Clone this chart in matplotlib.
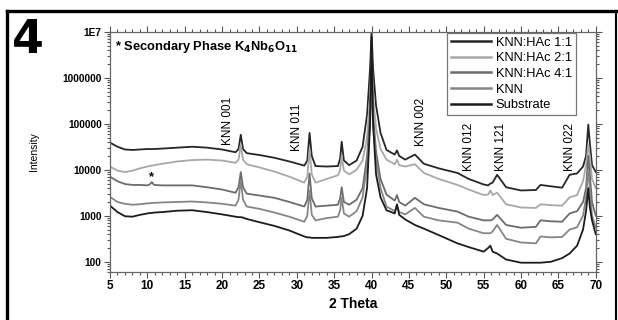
import numpy as np
import matplotlib
matplotlib.use("Agg")
import matplotlib.pyplot as plt
from matplotlib.lines import Line2D
from matplotlib.ticker import LogLocator, FixedLocator, NullFormatter

plt.rcParams['font.family'] = ['Liberation Sans', 'DejaVu Sans']

# 2 Theta positions (degrees)
two_theta = [5, 6, 7, 8, 9, 10, 10.3, 10.6, 10.9, 12, 14, 16, 18, 20,
             21.8, 22.2, 22.5, 22.8, 23.3, 25, 27, 29, 31, 31.4, 31.7, 32.0,
             32.5, 34, 35.5, 35.8, 36.0, 36.3, 37, 38, 38.8, 39.4, 39.8, 40.0,
             40.2, 40.6, 41.2, 42, 43.1, 43.4, 43.7, 44.5, 45.8, 47, 49, 51.5,
             53, 55, 55.6, 55.9, 56.2, 56.8, 58, 60, 62, 62.6, 64, 65.5, 66.5,
             67.5, 68.3, 68.7, 69.0, 69.2, 69.5, 70]

# log10(intensity)
log_hac_11 = [4.59, 4.50, 4.44, 4.43, 4.44, 4.45, 4.45, 4.45, 4.45, 4.46, 4.48,
              4.50, 4.48, 4.44, 4.38, 4.45, 4.76, 4.45, 4.36, 4.32, 4.26, 4.18,
              4.09, 4.20, 4.80, 4.30, 4.08, 4.07, 4.08, 4.25, 4.61, 4.20, 4.10,
              4.20, 4.50, 5.20, 6.20, 7.00, 6.20, 5.40, 4.80, 4.43, 4.33, 4.42,
              4.30, 4.22, 4.33, 4.13, 4.03, 3.93, 3.80, 3.68, 3.66, 3.70, 3.72,
              3.89, 3.62, 3.55, 3.56, 3.67, 3.64, 3.61, 3.89, 3.92, 4.07, 4.30,
              4.98, 4.60, 4.10, 3.95]
log_hac_21 = [4.07, 3.98, 3.95, 3.98, 4.03, 4.07, 4.08, 4.09, 4.10, 4.13, 4.18,
              4.21, 4.22, 4.20, 4.15, 4.22, 4.55, 4.22, 4.12, 4.05, 3.96, 3.85,
              3.72, 3.85, 4.45, 3.90, 3.72, 3.80, 3.88, 4.00, 4.30, 3.98, 3.90,
              4.00, 4.20, 4.70, 5.60, 6.50, 5.60, 4.90, 4.45, 4.22, 4.12, 4.22,
              4.10, 4.07, 4.12, 3.93, 3.80, 3.67, 3.57, 3.45, 3.46, 3.55, 3.45,
              3.50, 3.25, 3.18, 3.17, 3.25, 3.23, 3.22, 3.40, 3.45, 3.75, 4.10,
              4.55, 4.30, 3.80, 3.60]
log_hac_41 = [3.85, 3.75, 3.69, 3.67, 3.67, 3.66, 3.68, 3.73, 3.67, 3.66, 3.66,
              3.66, 3.62, 3.57, 3.50, 3.62, 3.95, 3.62, 3.48, 3.44, 3.39, 3.30,
              3.20, 3.35, 3.92, 3.38, 3.20, 3.22, 3.24, 3.38, 3.62, 3.30, 3.24,
              3.35, 3.60, 4.30, 5.20, 6.20, 5.20, 4.40, 3.80, 3.46, 3.33, 3.45,
              3.30, 3.22, 3.39, 3.25, 3.17, 3.09, 2.98, 2.90, 2.90, 2.90, 2.92,
              3.02, 2.80, 2.74, 2.76, 2.90, 2.88, 2.87, 3.05, 3.10, 3.30, 3.60,
              4.30, 3.90, 3.30, 3.00]
log_knn = [3.41, 3.30, 3.26, 3.24, 3.25, 3.27, 3.27, 3.28, 3.28, 3.29, 3.30,
           3.31, 3.29, 3.26, 3.22, 3.35, 3.78, 3.35, 3.20, 3.15, 3.07, 2.98,
           2.87, 3.00, 3.55, 3.02, 2.90, 2.95, 2.98, 3.12, 3.40, 3.05, 2.98,
           3.10, 3.40, 4.10, 5.00, 6.00, 5.00, 4.20, 3.60, 3.20, 3.10, 3.22,
           3.08, 3.03, 3.17, 2.98, 2.90, 2.85, 2.72, 2.62, 2.62, 2.62, 2.66,
           2.80, 2.50, 2.42, 2.40, 2.55, 2.53, 2.54, 2.70, 2.75, 3.00, 3.40,
           4.00, 3.60, 3.00, 2.75]
log_substrate = [3.22, 3.08, 2.99, 2.98, 3.02, 3.05, 3.06, 3.06, 3.07, 3.08, 3.11,
                 3.12, 3.08, 3.03, 2.98, 2.97, 2.97, 2.96, 2.93, 2.86, 2.78, 2.68,
                 2.55, 2.53, 2.53, 2.52, 2.52, 2.52, 2.54, 2.55, 2.55, 2.56, 2.60,
                 2.72, 3.00, 3.60, 5.00, 6.90, 5.00, 3.90, 3.40, 3.12, 3.05, 3.25,
                 3.02, 2.92, 2.80, 2.72, 2.58, 2.40, 2.32, 2.22, 2.30, 2.35, 2.22,
                 2.18, 2.05, 1.98, 1.98, 1.98, 2.00, 2.08, 2.18, 2.35, 2.70, 3.10,
                 3.60, 3.20, 2.90, 2.60]

series_names = ["KNN:HAc 1:1", "KNN:HAc 2:1", "KNN:HAc 4:1", "KNN", "Substrate"]
series_logs = [log_hac_11, log_hac_21, log_hac_41, log_knn, log_substrate]
series_colors = ["#262626", "#a8a8a8", "#6c6c6c", "#868686", "#1c1c1c"]

# peak labels: (text, 2 theta, bottom of text in intensity)
peak_labels = ["KNN 001", "KNN 011", "KNN 002", "KNN 012", "KNN 121", "KNN 022"]
peak_x = [20.8, 30.0, 46.6, 53.0, 57.3, 66.6]
peak_y = [35000, 26000, 32000, 9500, 9500, 9200]

fig = plt.figure(figsize=(6.18, 3.2), dpi=100)
ax = fig.add_axes([0.178, 0.15, 0.786, 0.751])

for nombre, logs, color in zip(series_names, series_logs, series_colors):
    ax.plot(two_theta, np.power(10.0, logs), color=color, lw=1.3, label=nombre)

ax.set_yscale("log")
ax.set_xlim(5, 70)
ax.set_ylim(60, 1e7)

# ticks
ax.xaxis.set_major_locator(FixedLocator(np.arange(5, 71, 5)))
ax.xaxis.set_minor_locator(FixedLocator(np.arange(5, 71, 1)))
ax.yaxis.set_minor_locator(LogLocator(base=10, subs=np.arange(2, 10), numticks=20))
ax.yaxis.set_minor_formatter(NullFormatter())
ax.set_yticks([100, 1000, 10000, 100000, 1000000, 10000000])
ax.set_yticklabels(["100", "1000", "10000", "100000", "1000000", "1E7"])
ax.tick_params(which="both", direction="out", top=True, right=True,
               labeltop=False, labelright=False, color="#555555", width=0.8)
ax.tick_params(which="major", length=4, pad=2)
ax.tick_params(which="minor", length=2)
ax.tick_params(axis="y", labelsize=7.3)
ax.tick_params(axis="x", labelsize=8.5)
for lab in ax.get_xticklabels() + ax.get_yticklabels():
    lab.set_fontweight("bold")
for sp in ax.spines.values():
    sp.set_color("#666666")
    sp.set_linewidth(0.9)

ax.set_xlabel("2 Theta", fontsize=10, fontweight="bold", labelpad=3)
ax.set_ylabel("Intensity", fontsize=7.5, labelpad=17)

ax.text(0.01, 0.935, r"* Secondary Phase K$_\mathbf{4}$Nb$_\mathbf{6}$O$_\mathbf{11}$",
        transform=ax.transAxes, fontsize=9.3, fontweight="bold", va="center")
ax.text(10.5, 7000, "*", fontsize=9, fontweight="bold", ha="center", va="center")

for texto, px, py in zip(peak_labels, peak_x, peak_y):
    ax.text(px, py, texto, rotation=90, ha="center", va="bottom", fontsize=8.5)

leg = ax.legend(loc="upper right", bbox_to_anchor=(0.959, 0.996), fontsize=9.3,
                frameon=True, fancybox=False, edgecolor="#555555",
                handlelength=3.1, handletextpad=0.4, labelspacing=0.28,
                borderpad=0.3, borderaxespad=0)
leg.get_frame().set_linewidth(0.9)
for linea in leg.get_lines():
    linea.set_linewidth(1.8)

# panel number and frame
fig.text(0.02, 0.835, "4", fontsize=33, fontweight="bold", family="DejaVu Sans")
fig.add_artist(Line2D([0.012, 0.012], [0.0, 0.967], color="black", lw=2.4))
fig.add_artist(Line2D([0.012, 0.997], [0.967, 0.967], color="black", lw=2.4))
fig.add_artist(Line2D([0.997, 0.997], [0.0, 0.967], color="black", lw=1.5))

fig.savefig("out.png", dpi=100)
